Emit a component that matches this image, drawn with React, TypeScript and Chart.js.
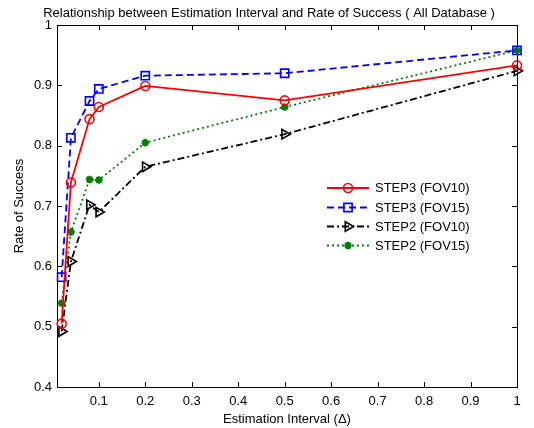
import React, { useEffect, useRef } from 'react';
import { Chart, registerables } from 'chart.js';

Chart.register(...registerables);

const xValues = [0.02, 0.04, 0.08, 0.1, 0.2, 0.5, 1];
const step3Fov10 = [0.505, 0.739, 0.844, 0.864, 0.899, 0.875, 0.933];
const step3Fov15 = [0.582, 0.813, 0.874, 0.894, 0.916, 0.92, 0.958];
const step2Fov10 = [0.492, 0.608, 0.702, 0.69, 0.765, 0.819, 0.924];
const step2Fov15 = [0.539, 0.657, 0.744, 0.743, 0.805, 0.864, 0.958];
const xTicks = [0.1, 0.2, 0.3, 0.4, 0.5, 0.6, 0.7, 0.8, 0.9, 1];
const yTicks = [0.4, 0.5, 0.6, 0.7, 0.8, 0.9, 1];
const seriesNames = ['STEP3 (FOV10)', 'STEP3 (FOV15)', 'STEP2 (FOV10)', 'STEP2 (FOV15)'];
const titleText = 'Relationship between Estimation Interval and Rate of Success ( All Database )';
const xTitle = 'Estimation Interval (\u0394)';
const yTitle = 'Rate of Success';

const FONT = '"Liberation Sans", Arial, Helvetica, sans-serif';

const styles = [
  { color: '#ff0000', dash: [] as number[], point: 'circle', radius: 4.5, rotation: 0, bw: 1.6 },
  { color: '#0000ff', dash: [7, 4], point: 'rect', radius: 5.8, rotation: 0, bw: 1.6 },
  { color: '#000000', dash: [7, 3, 2, 3], point: 'triangle', radius: 5.5, rotation: 90, bw: 1.6 },
  { color: '#008000', dash: [2, 3], point: 'star', radius: 3.8, rotation: 0, bw: 2.2 },
];
const LINE_W = 1.8;

function drawMarker(ctx: CanvasRenderingContext2D, kind: string, x: number, y: number, r: number, color: string, bw: number) {
  ctx.save();
  ctx.setLineDash([]);
  ctx.strokeStyle = color;
  ctx.lineWidth = bw;
  ctx.beginPath();
  if (kind === 'circle') {
    ctx.arc(x, y, r, 0, Math.PI * 2);
  } else if (kind === 'rect') {
    const s = Math.SQRT1_2 * r;
    ctx.rect(x - s, y - s, 2 * s, 2 * s);
  } else if (kind === 'triangle') {
    ctx.moveTo(x + r, y);
    ctx.lineTo(x - r / 2, y - r * 0.866);
    ctx.lineTo(x - r / 2, y + r * 0.866);
    ctx.closePath();
  } else if (kind === 'star') {
    ctx.moveTo(x - r, y); ctx.lineTo(x + r, y);
    ctx.moveTo(x, y - r); ctx.lineTo(x, y + r);
    const d = r * Math.SQRT1_2;
    ctx.moveTo(x - d, y - d); ctx.lineTo(x + d, y + d);
    ctx.moveTo(x - d, y + d); ctx.lineTo(x + d, y - d);
  }
  ctx.stroke();
  ctx.restore();
}

const framePlugin = {
  id: 'matlabFrame',
  beforeDatasetsDraw(chart: any) {
    const { ctx, chartArea: a, scales } = chart;
    ctx.save();
    ctx.strokeStyle = '#000';
    ctx.lineWidth = 1;
    ctx.strokeRect(a.left + 0.5, a.top + 0.5, a.right - a.left, a.bottom - a.top);
    const tl = 5;
    ctx.beginPath();
    for (const v of xTicks) {
      const px = Math.round(scales.x.getPixelForValue(v)) + 0.5;
      ctx.moveTo(px, a.bottom); ctx.lineTo(px, a.bottom - tl);
      ctx.moveTo(px, a.top); ctx.lineTo(px, a.top + tl);
    }
    for (const v of yTicks) {
      const py = Math.round(scales.y.getPixelForValue(v)) + 0.5;
      ctx.moveTo(a.left, py); ctx.lineTo(a.left + tl, py);
      ctx.moveTo(a.right, py); ctx.lineTo(a.right - tl, py);
    }
    ctx.stroke();
    ctx.restore();
  },
  afterDraw(chart: any) {
    const { ctx, chartArea: a } = chart;
    ctx.save();
    ctx.fillStyle = '#000';
    ctx.font = `13px ${FONT}`;
    ctx.textAlign = 'center';
    ctx.textBaseline = 'middle';
    ctx.fillText(titleText, 269, 13);
    ctx.fillText(xTitle, (a.left + a.right) / 2, 419);
    ctx.save();
    ctx.translate(19, (a.top + a.bottom) / 2);
    ctx.rotate(-Math.PI / 2);
    ctx.fillText(yTitle, 0, 0);
    ctx.restore();

    // legend
    const ly = [188, 207.5, 226.5, 245.5];
    ctx.textAlign = 'left';
    seriesNames.forEach((name, i) => {
      const st = styles[i];
      const y = ly[i];
      ctx.save();
      ctx.strokeStyle = st.color;
      ctx.lineWidth = LINE_W;
      ctx.setLineDash(st.dash);
      ctx.beginPath();
      ctx.moveTo(327, y); ctx.lineTo(369, y);
      ctx.stroke();
      ctx.restore();
      drawMarker(ctx, st.point, 348, y, st.radius, st.color, st.bw);
      ctx.fillStyle = '#000';
      ctx.fillText(name, 375, y + 0.5);
    });
    ctx.restore();
  },
};

export default function App() {
  const ref = useRef<HTMLCanvasElement | null>(null);
  useEffect(() => {
    if (!ref.current) return;
    const series = [step3Fov10, step3Fov15, step2Fov10, step2Fov15];
    const chart = new Chart(ref.current, {
      type: 'line',
      data: {
        datasets: series.map((vals, i) => ({
          label: seriesNames[i],
          data: xValues.map((x, j) => ({ x, y: vals[j] })),
          borderColor: styles[i].color,
          backgroundColor: 'rgba(0,0,0,0)',
          borderWidth: LINE_W,
          borderDash: styles[i].dash,
          pointStyle: styles[i].point as any,
          pointRadius: styles[i].radius,
          pointRotation: styles[i].rotation,
          pointBorderColor: styles[i].color,
          pointBackgroundColor: 'rgba(0,0,0,0)',
          pointBorderWidth: styles[i].bw,
          tension: 0,
          clip: false as any,
        })),
      },
      options: {
        responsive: false,
        animation: false,
        events: [],
        layout: { padding: { top: 25, right: 17, left: 0, bottom: 0 } },
        plugins: { legend: { display: false }, tooltip: { enabled: false }, title: { display: false } },
        scales: {
          x: {
            type: 'linear',
            min: 0.01,
            max: 1,
            afterBuildTicks: (s: any) => { s.ticks = xTicks.map((v) => ({ value: v })); },
            afterFit: (s: any) => { s.height = 41; },
            grid: { display: false, drawTicks: false },
            border: { display: false },
            ticks: {
              color: '#000',
              font: { family: FONT, size: 13 },
              padding: 7,
              maxRotation: 0,
              autoSkip: false,
              callback: (v: any) => (Number(v) === 1 ? '1' : Number(v).toFixed(1)),
            },
          },
          y: {
            type: 'linear',
            min: 0.4,
            max: 1,
            afterBuildTicks: (s: any) => { s.ticks = yTicks.map((v) => ({ value: v })); },
            afterFit: (s: any) => { s.width = 57; },
            grid: { display: false, drawTicks: false },
            border: { display: false },
            ticks: {
              color: '#000',
              font: { family: FONT, size: 13 },
              padding: 5,
              autoSkip: false,
              callback: (v: any) => (Number(v) === 1 ? '1' : Number(v).toFixed(1)),
            },
          },
        },
      },
      plugins: [framePlugin],
    });
    return () => chart.destroy();
  }, []);
  return (
    <div style={{ position: 'fixed', left: 0, top: 0, width: 534, height: 428, background: '#fff' }}>
      <canvas ref={ref} width={534} height={428} style={{ width: 534, height: 428, display: 'block' }} />
    </div>
  );
}
